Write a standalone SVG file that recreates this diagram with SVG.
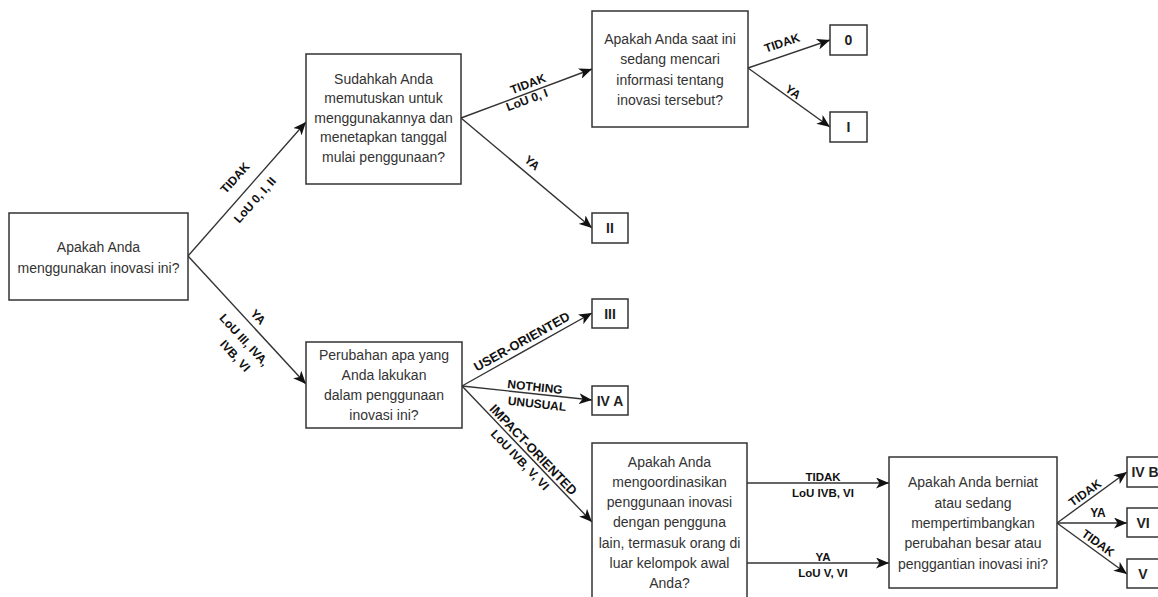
<svg xmlns="http://www.w3.org/2000/svg" width="1158" height="597" viewBox="0 0 1158 597">
<defs>
<style>
.box{fill:#fff;stroke:#333;stroke-width:1.5}
.nt{font-family:"Liberation Sans",Arial,sans-serif;font-size:14px;fill:#333;text-anchor:middle}
.lt{font-family:"Liberation Sans",Arial,sans-serif;font-size:14px;font-weight:bold;fill:#222;text-anchor:middle}
.lb{font-family:"Liberation Sans",Arial,sans-serif;font-size:12px;font-weight:bold;fill:#111;text-anchor:middle}
.cn{fill:none;stroke:#333;stroke-width:1.4;marker-end:url(#arr)}
</style>
<marker id="arr" markerUnits="userSpaceOnUse" markerWidth="13" markerHeight="11" refX="13" refY="5.5" orient="auto">
<path d="M0,0 L13,5.5 L0,11 L3.5,5.5 Z" fill="#111"/>
</marker>
</defs>
<rect width="1158" height="597" fill="#fff"/>

<g id="connectors">
<line class="cn" x1="188" y1="256" x2="306" y2="122"/>
<line class="cn" x1="188" y1="256" x2="306" y2="384"/>
<line class="cn" x1="461" y1="118" x2="592" y2="69"/>
<line class="cn" x1="461" y1="118" x2="592" y2="228"/>
<line class="cn" x1="748" y1="68" x2="830" y2="40"/>
<line class="cn" x1="748" y1="68" x2="830" y2="127"/>
<line class="cn" x1="462" y1="386" x2="592" y2="313"/>
<line class="cn" x1="462" y1="386" x2="592" y2="400"/>
<line class="cn" x1="462" y1="386" x2="592" y2="522"/>
<line class="cn" x1="747" y1="483" x2="889" y2="483"/>
<line class="cn" x1="747" y1="563" x2="889" y2="563"/>
<line class="cn" x1="1057" y1="523" x2="1127" y2="472"/>
<line class="cn" x1="1057" y1="523" x2="1127" y2="523"/>
<line class="cn" x1="1057" y1="523" x2="1127" y2="574"/>
</g>

<g id="labels">
<text class="lb" x="235" y="182" transform="rotate(-48.4 235 178)">TIDAK</text>
<text class="lb" x="255" y="204" transform="rotate(-48.4 255 200)">LoU 0, I, II</text>
<text class="lb" x="258" y="321" transform="rotate(47.3 258 317)">YA</text>
<text class="lb" x="244" y="344" transform="rotate(47.3 244 340)">LoU III, IVA,</text>
<text class="lb" x="235" y="360" transform="rotate(47.3 235 356)">IVB, VI</text>
<text class="lb" x="528" y="88" transform="rotate(-20.5 528 84)">TIDAK</text>
<text class="lb" x="527" y="104" transform="rotate(-20.5 527 100)">LoU 0, I</text>
<text class="lb" x="532" y="167" transform="rotate(40 532 163)">YA</text>
<text class="lb" x="782" y="47" transform="rotate(-18.9 782 43)">TIDAK</text>
<text class="lb" x="793" y="96" transform="rotate(35.7 793 92)">YA</text>
<text class="lb" style="font-size:13px" x="522" y="346" transform="rotate(-29.3 522 342)">USER-ORIENTED</text>
<text class="lb" x="535" y="391" transform="rotate(6.1 535 387)">NOTHING</text>
<text class="lb" x="537" y="408" transform="rotate(6.1 537 404)">UNUSUAL</text>
<text class="lb" style="font-size:13px" x="533" y="454" transform="rotate(46.3 533 450)">IMPACT-ORIENTED</text>
<text class="lb" x="520" y="464" transform="rotate(46.3 520 460)">LoU IVB, V, VI</text>
<text class="lb" style="font-size:11.5px" x="823" y="481">TIDAK</text>
<text class="lb" style="font-size:11.5px" x="823" y="497">LoU IVB, VI</text>
<text class="lb" style="font-size:11.5px" x="823" y="561">YA</text>
<text class="lb" style="font-size:11.5px" x="823" y="577">LoU V, VI</text>
<text class="lb" x="1085" y="497" transform="rotate(-36 1085 493)">TIDAK</text>
<text class="lb" x="1098" y="517">YA</text>
<text class="lb" x="1098" y="547" transform="rotate(36 1098 543)">TIDAK</text>
</g>

<g id="node-a">
<rect class="box" x="9" y="213" width="179" height="87"/>
<text class="nt" x="98.5" y="252">Apakah Anda</text>
<text class="nt" x="98.5" y="273">menggunakan inovasi ini?</text>
</g>

<g id="node-b">
<rect class="box" x="306" y="54" width="155" height="130"/>
<text class="nt" x="383.5" y="84">Sudahkah Anda</text>
<text class="nt" x="383.5" y="103">memutuskan untuk</text>
<text class="nt" x="383.5" y="123">menggunakannya dan</text>
<text class="nt" x="383.5" y="142">menetapkan tanggal</text>
<text class="nt" x="383.5" y="162">mulai penggunaan?</text>
</g>

<g id="node-c">
<rect class="box" x="592" y="11" width="156" height="116"/>
<text class="nt" x="670" y="44">Apakah Anda saat ini</text>
<text class="nt" x="670" y="64">sedang mencari</text>
<text class="nt" x="670" y="85">informasi tentang</text>
<text class="nt" x="670" y="105">inovasi tersebut?</text>
</g>

<g id="leaf-0">
<rect class="box" x="830" y="25" width="37" height="30"/>
<text class="lt" x="848.5" y="45">0</text>
</g>
<g id="leaf-i">
<rect class="box" x="830" y="112" width="37" height="30"/>
<text class="lt" x="848.5" y="132">I</text>
</g>
<g id="leaf-ii">
<rect class="box" x="592" y="213" width="36" height="30"/>
<text class="lt" x="610" y="233">II</text>
</g>

<g id="node-d">
<rect class="box" x="306" y="342" width="156" height="86"/>
<text class="nt" x="384" y="360">Perubahan apa yang</text>
<text class="nt" x="384" y="380">Anda lakukan</text>
<text class="nt" x="384" y="400">dalam penggunaan</text>
<text class="nt" x="384" y="420">inovasi ini?</text>
</g>

<g id="leaf-iii">
<rect class="box" x="592" y="299" width="36" height="29"/>
<text class="lt" x="610" y="319">III</text>
</g>
<g id="leaf-iva">
<rect class="box" x="592" y="386" width="36" height="29"/>
<text class="lt" x="610" y="406">IV A</text>
</g>

<g id="node-e">
<rect class="box" x="592" y="443" width="155" height="170"/>
<text class="nt" x="669.5" y="467">Apakah Anda</text>
<text class="nt" x="669.5" y="487">mengoordinasikan</text>
<text class="nt" x="669.5" y="507">penggunaan inovasi</text>
<text class="nt" x="669.5" y="527">dengan pengguna</text>
<text class="nt" x="669.5" y="548">lain, termasuk orang di</text>
<text class="nt" x="669.5" y="568">luar kelompok awal</text>
<text class="nt" x="669.5" y="588">Anda?</text>
</g>

<g id="node-f">
<rect class="box" x="889" y="457" width="168" height="131"/>
<text class="nt" x="973" y="487">Apakah Anda berniat</text>
<text class="nt" x="973" y="508">atau sedang</text>
<text class="nt" x="973" y="528">mempertimbangkan</text>
<text class="nt" x="973" y="548">perubahan besar atau</text>
<text class="nt" x="973" y="569">penggantian inovasi ini?</text>
</g>

<g id="leaf-ivb">
<rect class="box" x="1127" y="457" width="36" height="30"/>
<text class="lt" x="1145" y="477">IV B</text>
</g>
<g id="leaf-vi">
<rect class="box" x="1127" y="508" width="36" height="29"/>
<text class="lt" x="1143" y="528">VI</text>
</g>
<g id="leaf-v">
<rect class="box" x="1127" y="559" width="36" height="29"/>
<text class="lt" x="1143" y="579">V</text>
</g>
</svg>
